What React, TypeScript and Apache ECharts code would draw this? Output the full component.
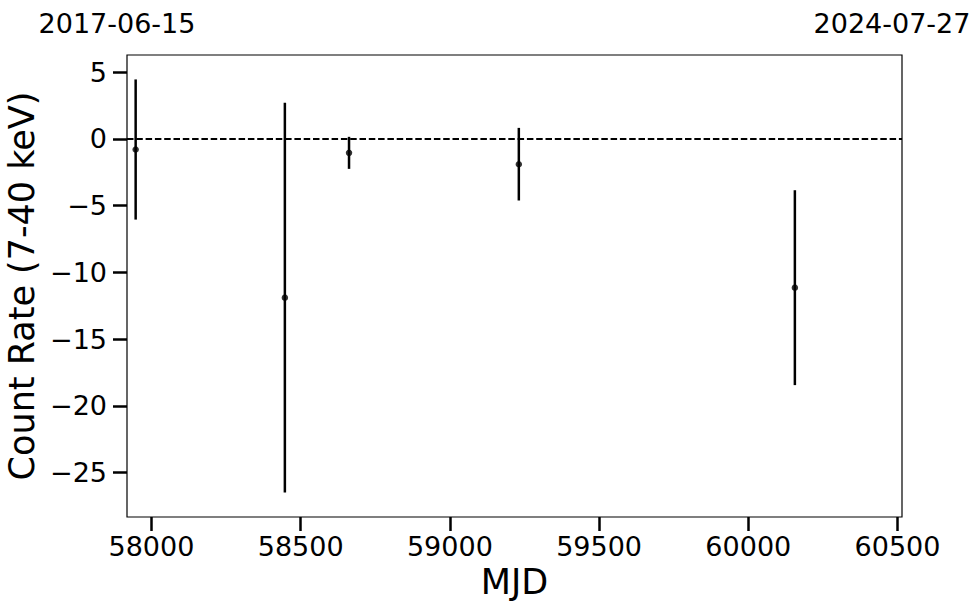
import React, { useEffect, useRef } from "react";
import * as echarts from "echarts";

// Observations (MJD), count rate and 1-sigma error
const mjd = [57947, 58447, 58662, 59231, 60156];
const rate = [-0.8, -11.9, -1.05, -1.9, -11.15];
const rateErr = [5.25, 14.6, 1.2, 2.72, 7.3];

// Axis ticks
const xTicks = [58000, 58500, 59000, 59500, 60000, 60500];
const yTicks = [-25, -20, -15, -10, -5, 0, 5];
const topTicksMJD = [57919, 60518];

const X_MIN = 57918;
const X_MAX = 60515;
const Y_MIN = -28.33;
const Y_MAX = 6.28;

const FONT = "DejaVu Sans";

function mjdToDate(m: number): string {
  const d = new Date(Date.UTC(1858, 10, 17) + Math.round(m) * 86400000);
  const p = (n: number) => (n < 10 ? "0" + n : "" + n);
  return d.getUTCFullYear() + "-" + p(d.getUTCMonth() + 1) + "-" + p(d.getUTCDate());
}

export default function App() {
  const ref = useRef<HTMLDivElement>(null);
  useEffect(() => {
    if (!ref.current) return;
    const chart = echarts.init(ref.current, undefined, { renderer: "svg" });
    const errData = mjd.map((m, i) => [m, rate[i] - rateErr[i], rate[i] + rateErr[i]]);
    const ptData = mjd.map((m, i) => [m, rate[i]]);
    chart.setOption({
      animation: false,
      backgroundColor: "#ffffff",
      textStyle: { fontFamily: FONT, color: "#000" },
      grid: {
        left: 127,
        right: 78,
        top: 55,
        bottom: 96,
        containLabel: false,
        outerBoundsMode: "none",
        show: true,
        borderColor: "#000",
        borderWidth: 1.2,
        backgroundColor: "transparent",
      },
      xAxis: [
        {
          type: "value",
          min: X_MIN,
          max: X_MAX,
          position: "bottom",
          name: "MJD",
          nameLocation: "middle",
          nameGap: 46,
          nameTextStyle: { fontSize: 35, color: "#000", fontFamily: FONT },
          axisLine: { show: false, onZero: false },
          splitLine: { show: false },
          axisTick: {
            show: true,
            length: 14,
            inside: false,
            customValues: xTicks,
            lineStyle: { color: "#000", width: 2.5 },
          },
          axisLabel: {
            customValues: xTicks,
            fontSize: 27,
            color: "#000",
            fontFamily: FONT,
            margin: 16,
            formatter: (v: number) => String(v),
          },
        },
        {
          type: "value",
          min: topTicksMJD[0],
          max: topTicksMJD[1],
          position: "top",
          axisLine: { show: false, onZero: false },
          splitLine: { show: false },
          axisTick: { show: false },
          axisLabel: {
            customValues: topTicksMJD,
            fontSize: 27,
            color: "#000",
            fontFamily: FONT,
            margin: 18,
            padding: [0, 20, 0, 0],
            formatter: (v: number) => mjdToDate(v),
          },
        },
      ],
      yAxis: {
        type: "value",
        min: Y_MIN,
        max: Y_MAX,
        name: "Count Rate (7-40 keV)",
        nameLocation: "middle",
        nameGap: 82,
        nameTextStyle: { fontSize: 35, color: "#000", fontFamily: FONT },
        axisLine: { show: false, onZero: false },
        splitLine: { show: false },
        axisTick: {
          show: true,
          length: 14,
          inside: false,
          customValues: yTicks,
          lineStyle: { color: "#000", width: 2.5 },
        },
        axisLabel: {
          customValues: yTicks,
          fontSize: 27,
          color: "#000",
          fontFamily: FONT,
          margin: 20,
          formatter: (v: number) => (v < 0 ? "\u2212" + Math.abs(v) : String(v)),
        },
      },
      series: [
        {
          type: "custom",
          xAxisIndex: 0,
          data: errData,
          renderItem: (params: any, api: any) => {
            const x = api.value(0);
            const p1 = api.coord([x, api.value(1)]);
            const p2 = api.coord([x, api.value(2)]);
            return {
              type: "line",
              shape: { x1: p1[0], y1: p1[1], x2: p2[0], y2: p2[1] },
              style: { stroke: "#000", lineWidth: 2.5 },
            };
          },
          z: 2,
        },
        {
          type: "scatter",
          xAxisIndex: 0,
          data: ptData,
          symbol: "circle",
          symbolSize: 6.5,
          itemStyle: { color: "#000" },
          z: 3,
          markLine: {
            silent: true,
            symbol: ["none", "none"],
            label: { show: false },
            lineStyle: { color: "#000", type: [6.5, 2.8], width: 1.8 },
            data: [{ yAxis: 0 }],
          },
        },
      ],
    });
    return () => chart.dispose();
  }, []);
  return (
    <div
      ref={ref}
      style={{ position: "absolute", left: 0, top: 0, width: 980, height: 613 }}
    />
  );
}
